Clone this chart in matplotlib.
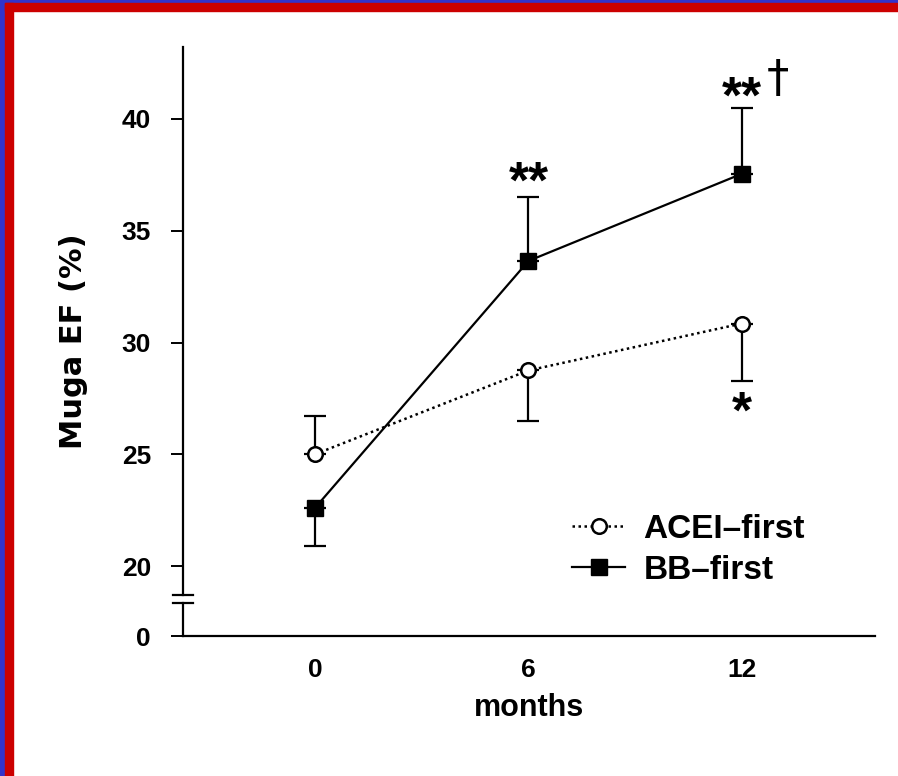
import matplotlib
matplotlib.use("Agg")
import matplotlib.pyplot as plt
from matplotlib.patches import Rectangle
import numpy as np

plt.rcParams['font.family'] = ['Liberation Sans', 'DejaVu Sans']

# ---- data ----
months = [0, 6, 12]
acei_mean = [25.0, 28.75, 30.85]
acei_err = [1.7, 2.25, 2.55]
acei_dir = [1, -1, -1]          # +1 = error bar drawn upward, -1 = downward
bb_mean = [22.6, 33.65, 37.55]
bb_err = [1.7, 2.85, 2.95]
bb_dir = [-1, 1, 1]
ytick_vals = [20, 25, 30, 35, 40]
xtick_labels = ['0', '6', '12']
series_labels = ['ACEI\u2013first', 'BB\u2013first']

# axis break: the "0" value drawn just below the break
zero_pos = 16.87
break_lo, break_hi = 18.34, 18.70

W, H = 898, 776
fig = plt.figure(figsize=(W / 100, H / 100), dpi=100)
fig.patch.set_facecolor('white')

# frame bands (top and left)
fig.patches.append(Rectangle((0, 1 - 3 / H), 1, 3 / H, transform=fig.transFigure, color='#3333cc', zorder=0))
fig.patches.append(Rectangle((0, 0), 5 / W, 1, transform=fig.transFigure, color='#3333cc', zorder=0))
fig.patches.append(Rectangle((5 / W, 1 - 11 / H), 1, 8 / H, transform=fig.transFigure, color='#cc0000', zorder=0))
fig.patches.append(Rectangle((5 / W, 0), 8 / W, 1 - 3 / H, transform=fig.transFigure, color='#cc0000', zorder=0))

ax = fig.add_axes([183 / W, 1 - 636 / H, (875 - 183) / W, (636 - 47) / H])
ax.set_facecolor('none')
ax.set_xlim(-3.71, 15.74)
ax.set_ylim(zero_pos, 43.22)

for s in ['top', 'right']:
    ax.spines[s].set_visible(False)
ax.spines['left'].set_bounds(break_hi, 43.22)
ax.spines['left'].set_linewidth(1.6)
ax.spines['bottom'].set_linewidth(1.6)

# lower segment of the broken y axis and break marks
bt = ax.get_yaxis_transform()
ax.plot([0, 0], [zero_pos, break_lo], color='black', lw=1.6, transform=bt, clip_on=False)
for yb in (break_lo, break_hi):
    ax.plot([-0.014, 0.015], [yb, yb], color='black', lw=1.6, transform=bt, clip_on=False)

ax.set_yticks([zero_pos] + ytick_vals)
ax.set_yticklabels(['0'] + [str(v) for v in ytick_vals])
ax.set_xticks(months)
ax.set_xticklabels(xtick_labels)
ax.tick_params(axis='y', direction='out', length=9, width=1.4, labelsize=19, pad=14)
ax.tick_params(axis='x', length=0, labelsize=19, pad=16)
for lab in ax.get_xticklabels() + ax.get_yticklabels():
    lab.set_fontweight('bold')

ax.set_xlabel('months', fontsize=22, fontweight='bold', labelpad=8)
ax.set_ylabel('Muga EF (%)', fontsize=22, fontweight='bold', labelpad=24,
              family='DejaVu Sans')


def draw_errors(x, m, e, d):
    x = np.array(x); m = np.array(m); e = np.array(e); d = np.array(d)
    up = d > 0
    dn = d < 0
    if up.any():
        ax.errorbar(x[up], m[up], yerr=[np.zeros(up.sum()), e[up]], fmt='none',
                    ecolor='black', elinewidth=1.6, capsize=8, capthick=1.6, zorder=2)
    if dn.any():
        ax.errorbar(x[dn], m[dn], yerr=[e[dn], np.zeros(dn.sum())], fmt='none',
                    ecolor='black', elinewidth=1.6, capsize=8, capthick=1.6, zorder=2)


draw_errors(months, acei_mean, acei_err, acei_dir)
draw_errors(months, bb_mean, bb_err, bb_dir)

ax.plot(months, acei_mean, linestyle=(0, (1, 1.4)), color='black', lw=1.8,
        marker='o', markersize=10.5, markerfacecolor='white', markeredgecolor='black',
        markeredgewidth=1.8, zorder=3, label=series_labels[0])
ax.plot(months, bb_mean, linestyle='-', color='black', lw=1.6,
        marker='s', markersize=11, markerfacecolor='black', markeredgecolor='black',
        zorder=3, label=series_labels[1])

# significance marks
ax.text(6, 37.09, '**', ha='center', va='center', fontsize=37, fontweight='bold')
ax.text(12, 40.9, '**', ha='center', va='center', fontsize=37, fontweight='bold')
ax.text(13.0, 41.75, '\u2020', ha='center', va='center', fontsize=32, family='DejaVu Sans')
ax.text(12, 26.8, '*', ha='center', va='center', fontsize=37, fontweight='bold')

leg = ax.legend(loc='upper left', bbox_to_anchor=(572 / W, 1 - 514 / H),
                bbox_transform=fig.transFigure, frameon=False,
                prop={'size': 24, 'weight': 'bold'},
                handlelength=1.6, handletextpad=0.55, borderpad=0, borderaxespad=0,
                labelspacing=0.3)

fig.savefig('out.png', dpi=100, facecolor='white')
